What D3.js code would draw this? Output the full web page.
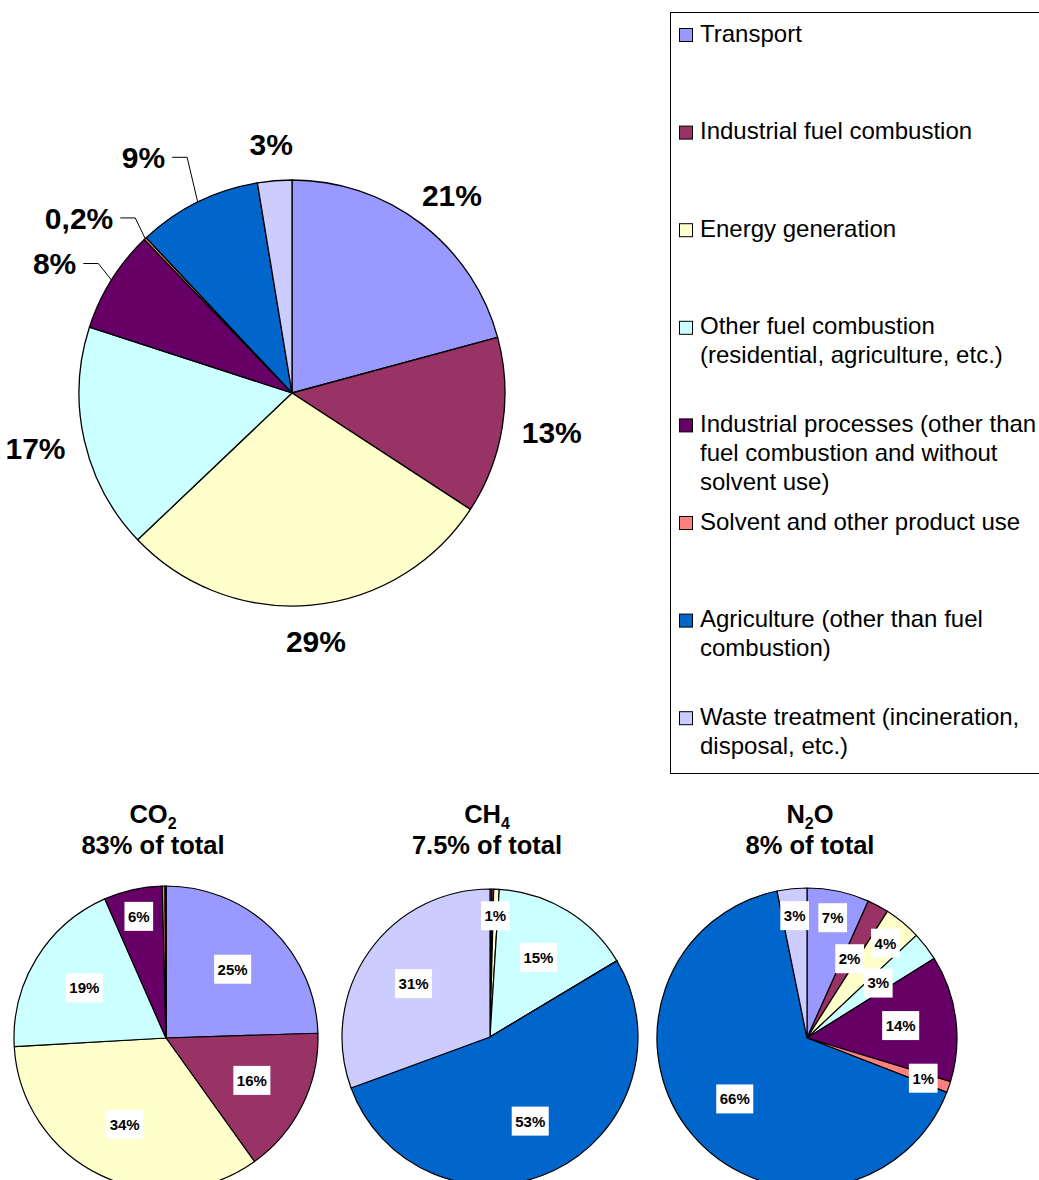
<!DOCTYPE html>
<html>
<head>
<meta charset="utf-8">
<script src="https://cdn.jsdelivr.net/npm/d3@7"></script>
<style>
  body { margin: 0; background: #fff; }
  svg { display: block; font-family: "Liberation Sans", Arial, sans-serif; }
</style>
</head>
<body>
<div id="chart"></div>
<script>
// categories (order of slices, clockwise from 12 o'clock)
var categories = ["Transport", "Industrial fuel combustion", "Energy generation",
  "Other fuel combustion", "Industrial processes", "Solvent and other product use",
  "Agriculture", "Waste treatment"];
var legendLabels = [
  "Transport",
  "Industrial fuel combustion",
  "Energy generation",
  "Other fuel combustion\n(residential, agriculture, etc.)",
  "Industrial processes (other than\nfuel combustion and without\nsolvent use)",
  "Solvent and other product use",
  "Agriculture (other than fuel\ncombustion)",
  "Waste treatment (incineration,\ndisposal, etc.)"];
var colors = ["#9999FF", "#993366", "#FFFFCC", "#CCFFFF", "#660066", "#FF8080", "#0066CC", "#CCCCFF"];

// total greenhouse gas emissions (%)
var totalValues = [20.8, 13.4, 28.7, 17.1, 7.8, 0.2, 9.4, 2.6];
var totalLabels = ["21%", "13%", "29%", "17%", "8%", "0,2%", "9%", "3%"];

// per gas (%)
var gasNames = ["CO", "CH", "N"];
var gasSubs = ["2", "4", "2"];
var gasTails = ["", "", "O"];
var gasShares = ["83% of total", "7.5% of total", "8% of total"];
var co2Values = [24.5, 15.6, 34.0, 19.3, 6.2, 0.3, 0.1, 0];
var co2Labels = ["25%", "16%", "34%", "19%", "6%", "", "", ""];
var ch4Values = [0.2, 0.2, 0.6, 15.4, 0, 0, 53.0, 30.6];
var ch4Labels = ["", "", "1%", "15%", "", "", "53%", "31%"];
var n2oValues = [6.7, 2.3, 4.0, 3.1, 13.6, 1.2, 65.9, 3.2];
var n2oLabels = ["7%", "2%", "4%", "3%", "14%", "1%", "66%", "3%"];

var w = 1039, h = 1180;
var svg = d3.select("#chart").append("svg").attr("width", w).attr("height", h);

var color = d3.scaleOrdinal().domain(categories).range(colors);
var pie = d3.pie().sort(null).value(function(d) { return d.v; });

function rows(values) {
  return values.map(function(v, i) { return { cat: categories[i], v: v }; });
}

// ---- main pie ----
var main = { cx: 292, cy: 393, r: 213 };
// labels with leader lines: how far out the elbow sits beyond the rim
var leaderOut = { "Industrial processes": 20, "Solvent and other product use": 22, "Agriculture": 45 };

var gMain = svg.append("g").attr("transform", "translate(" + main.cx + "," + main.cy + ")");
var arcMain = d3.arc().innerRadius(0).outerRadius(main.r);
var mainArcs = pie(rows(totalValues));

gMain.selectAll("path").data(mainArcs).enter().append("path")
  .attr("d", arcMain)
  .attr("fill", function(d) { return color(d.data.cat); })
  .attr("stroke", "#000").attr("stroke-width", 1.3).attr("stroke-linejoin", "round");

mainArcs.forEach(function(d, i) {
  var a = (d.startAngle + d.endAngle) / 2;
  var sx = Math.sin(a), sy = -Math.cos(a);
  var t = gMain.append("text").text(totalLabels[i])
    .attr("font-size", 30).attr("font-weight", "bold").attr("fill", "#000");
  var out = leaderOut[d.data.cat];
  if (out !== undefined) {
    var ex = main.r * sx, ey = main.r * sy;
    var ka = a + (out > 30 ? 0.04 : 0.03);
    var kx = (main.r + out) * Math.sin(ka), ky = -(main.r + out) * Math.cos(ka);
    gMain.append("polyline")
      .attr("points", [[ex, ey], [kx, ky], [kx - 15, ky]].map(function(p) { return p.join(","); }).join(" "))
      .attr("fill", "none").attr("stroke", "#000").attr("stroke-width", 1);
    t.attr("text-anchor", "end").attr("x", kx - 22).attr("y", ky).attr("dy", "0.36em");
  } else {
    t.attr("text-anchor", "middle");
    var bb = t.node().getBBox();
    var px = (main.r + 20) * sx + sx * bb.width / 2;
    var py = (main.r + 20) * sy + sy * bb.height / 2;
    t.attr("x", px).attr("y", py).attr("dy", "0.36em");
  }
});

// ---- legend ----
var leg = svg.append("g").attr("transform", "translate(670.5,12.5)");
leg.append("rect").attr("width", 420).attr("height", 761)
  .attr("fill", "#fff").attr("stroke", "#000").attr("stroke-width", 1);
var item = leg.selectAll("g.item").data(categories).enter().append("g")
  .attr("class", "item")
  .attr("transform", function(d, i) { return "translate(0," + (13 + i * 97.6) + ")"; });
item.append("rect").attr("x", 9).attr("y", 3).attr("width", 13).attr("height", 13)
  .attr("fill", function(d) { return color(d); })
  .attr("stroke", "#000").attr("stroke-width", 1);
item.append("text").attr("font-size", 24).attr("fill", "#000")
  .each(function(d, i) {
    var lines = legendLabels[i].split("\n");
    var el = d3.select(this);
    lines.forEach(function(s, j) {
      el.append("tspan").attr("x", 29.5).attr("y", 7.5 + j * 29).attr("dy", "0.36em").text(s);
    });
  });

// ---- small pies ----
var small = [
  { cx: 166, cy: 1038, r: 152, tx: 153, values: co2Values, labels: co2Labels },
  { cx: 490, cy: 1037, r: 148, tx: 487, values: ch4Values, labels: ch4Labels },
  { cx: 807, cy: 1038, r: 150, tx: 810, values: n2oValues, labels: n2oLabels }
];

small.forEach(function(p, k) {
  var title = svg.append("text").attr("text-anchor", "middle")
    .attr("font-size", 25.5).attr("font-weight", "bold").attr("fill", "#000");
  var t1 = title.append("tspan").attr("x", p.tx).attr("y", 823);
  t1.append("tspan").text(gasNames[k]);
  t1.append("tspan").attr("font-size", 16).attr("dy", 6).text(gasSubs[k]);
  if (gasTails[k]) t1.append("tspan").attr("dy", -6).text(gasTails[k]);
  svg.append("text").attr("text-anchor", "middle").attr("x", p.tx).attr("y", 854)
    .attr("font-size", 25.5).attr("font-weight", "bold").attr("fill", "#000")
    .text(gasShares[k]);

  var g = svg.append("g").attr("transform", "translate(" + p.cx + "," + p.cy + ")");
  var arc = d3.arc().innerRadius(0).outerRadius(p.r);
  var arcs = pie(rows(p.values));
  g.selectAll("path").data(arcs).enter().append("path")
    .attr("d", arc)
    .attr("fill", function(d) { return color(d.data.cat); })
    .attr("stroke", "#000").attr("stroke-width", 1.2).attr("stroke-linejoin", "round");

  // small slices sit near the rim; consecutive small ones alternate in/out
  var prevSmallOut = false;
  arcs.forEach(function(d, i) {
    var txt = p.labels[i];
    if (!txt) return;
    var f;
    if (d.data.v < 7) {
      f = prevSmallOut ? 0.6 : 0.82;
      prevSmallOut = !prevSmallOut;
    } else {
      f = 0.63;
      prevSmallOut = false;
    }
    var a = (d.startAngle + d.endAngle) / 2;
    var x = f * p.r * Math.sin(a), y = -f * p.r * Math.cos(a);
    var lg = g.append("g");
    var box = lg.append("rect").attr("fill", "#fff");
    var t = lg.append("text").text(txt).attr("text-anchor", "middle")
      .attr("x", x).attr("y", y).attr("dy", "0.36em")
      .attr("font-size", 15).attr("font-weight", "bold").attr("fill", "#000");
    var bw = t.node().getBBox().width + 7, bh = 29;
    box.attr("x", x - bw / 2).attr("y", y - bh / 2).attr("width", bw).attr("height", bh);
  });
});
</script>
</body>
</html>
